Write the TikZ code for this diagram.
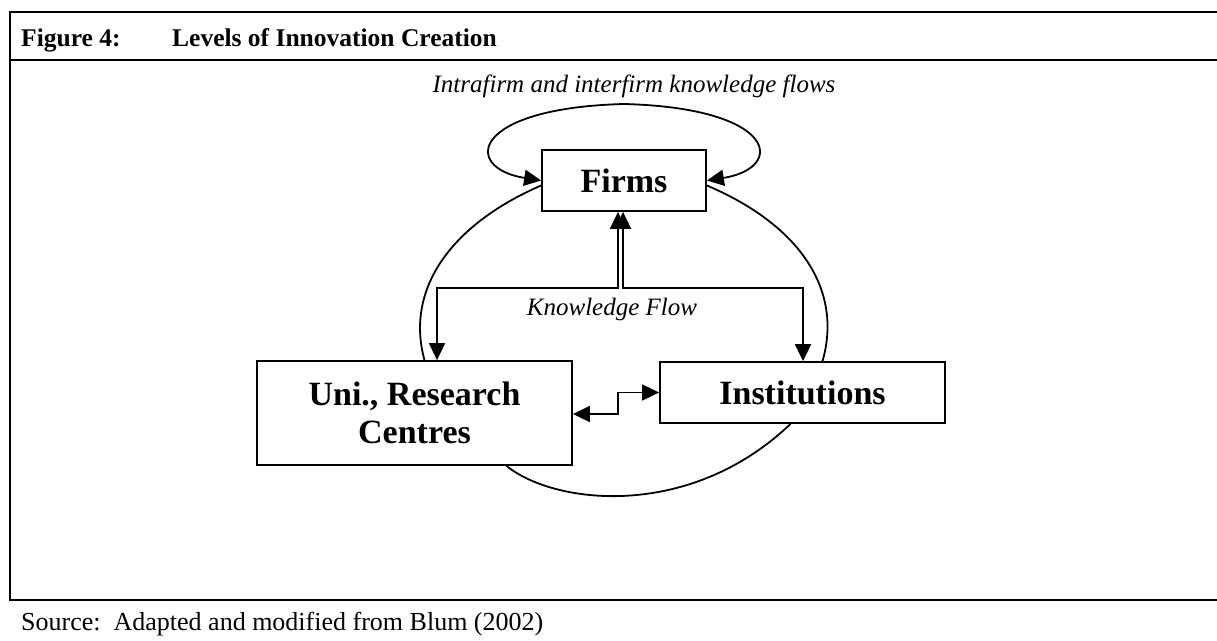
\documentclass[tikz,border=0pt]{standalone}
\usepackage{fontspec}
\setmainfont{Liberation Serif}
\usetikzlibrary{arrows.meta,calc}
\begin{document}
\begin{tikzpicture}[x=1pt,y=-1pt,
  frame/.style={line width=2.6pt},
  box/.style={draw,line width=1.8pt,inner sep=0pt,align=center,
    font=\fontsize{34}{38}\selectfont\bfseries},
  tip/.tip={Triangle[length=17pt,width=16pt]},
  conn/.style={line width=1.8pt,{tip}-{tip}},
  curve/.style={line width=1.8pt},
  lbl/.style={inner sep=0pt,font=\fontsize{25}{30}\selectfont\itshape},
  txt/.style={inner sep=0pt,anchor=base west,font=\fontsize{25.5}{30}\selectfont},
]
\useasboundingbox (0,0) rectangle (1217,640);

% outer frame and dividers
\draw[frame] (1217,12) -- (10,12) -- (10,600) -- (1217,600);
\draw[frame] (10,60) -- (1217,60);

% heading and source line
\node[txt,font=\fontsize{25.5}{30}\selectfont\bfseries] (fignum) at (21,46) {Figure 4:};
\node[txt,font=\fontsize{25.5}{30}\selectfont\bfseries] (title) at (172,46) {Levels of Innovation Creation};
\node[txt,font=\fontsize{26}{30}\selectfont] (source) at (21,630) {Source:\ \ Adapted and modified from Blum (2002)};

% boxes
\node[box,minimum width=164pt,minimum height=61pt] (firms) at (624,180.5) {Firms};
\node[box,minimum width=315pt,minimum height=104pt] (uni) at (414.5,413) {Uni., Research\\Centres};
\node[box,minimum width=285pt,minimum height=61pt] (inst) at (802.5,392.5) {Institutions};

% labels
\node[lbl] (intra) at (634,86) {Intrafirm and interfirm knowledge flows};
\node[lbl] (kflow) at (612,309) {Knowledge Flow};

% loop above Firms
\draw[conn] (firms.west) .. controls (462,168) and (470,108) .. (624,104)
  .. controls (778,108) and (786,168) .. (firms.east);

% large ring through the three boxes
\draw[curve] ([yshift=-5pt]firms.west) .. controls (450,225) and (405,290) .. ([xshift=10pt]uni.north);
\draw[curve] ([yshift=-5pt]firms.east) .. controls (800,225) and (843,290) .. ([xshift=20pt]inst.north);
\draw[curve] ([xshift=92pt]uni.south) .. controls (555,505) and (690,520) .. ([xshift=-12pt]inst.south);

% knowledge flow connectors
\draw[conn] ([xshift=-6pt]firms.south) -- ++(0,76) -| ([xshift=22.5pt]uni.north);
\draw[conn] ([xshift=-1pt]firms.south) -- ++(0,76) -| ([xshift=0.5pt]inst.north);

% link between Uni and Institutions
\draw[conn] ([yshift=-1pt]uni.east) -- ++(45,0) |- (inst.west);
\end{tikzpicture}
\end{document}
